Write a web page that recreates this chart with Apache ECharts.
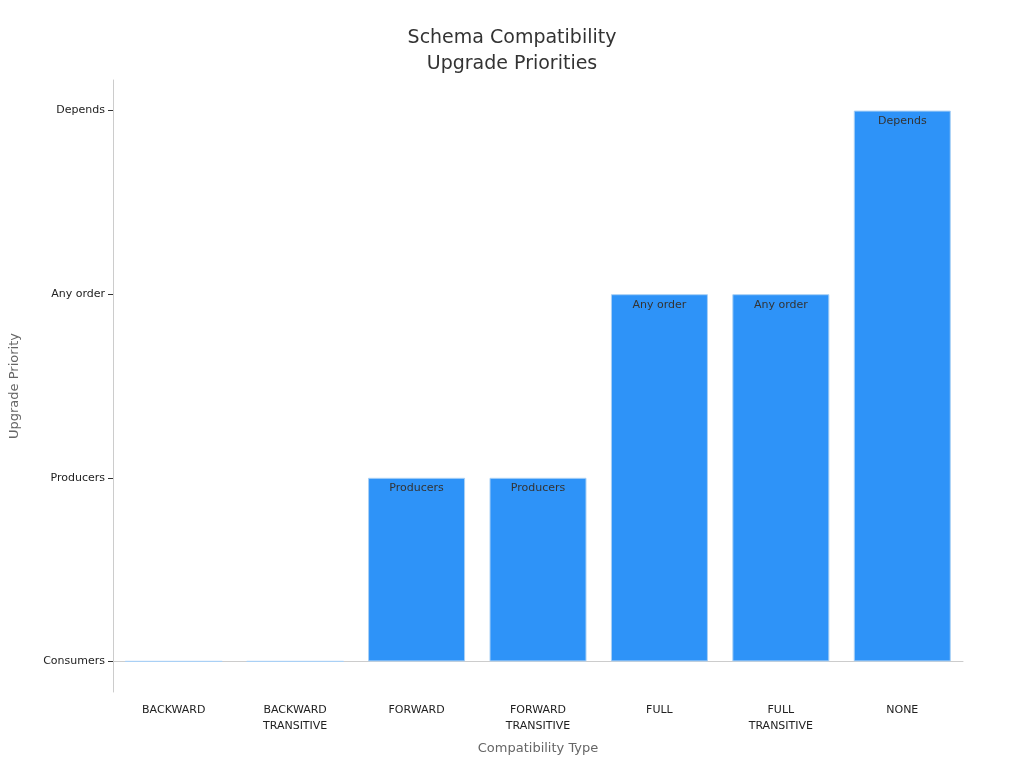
<!DOCTYPE html>
<html>
<head>
<meta charset="utf-8">
<script src="https://cdn.jsdelivr.net/npm/echarts@6/dist/echarts.min.js"></script>
<style>html,body{margin:0;padding:0;}#chart{width:1024px;height:768px;}</style>
</head>
<body>
<div id="chart"></div>
<script>
var categories = ['BACKWARD', 'BACKWARD\nTRANSITIVE', 'FORWARD', 'FORWARD\nTRANSITIVE', 'FULL', 'FULL\nTRANSITIVE', 'NONE'];
var priorityLevels = ['Consumers', 'Producers', 'Any order', 'Depends'];
var priorityValues = [0, 0, 1, 1, 2, 2, 3];

var chart = echarts.init(document.getElementById('chart'));
chart.setOption({
    title: {
        text: 'Schema Compatibility\nUpgrade Priorities',
        left: 'center',
        top: 20,
        textStyle: {fontFamily: 'DejaVu Sans', fontSize: 19, fontWeight: 'normal', color: '#333', lineHeight: 26}
    },
    grid: {left: 111, right: 61, top: 80, bottom: 76},
    xAxis: {
        type: 'category',
        data: categories,
        name: 'Compatibility Type',
        nameLocation: 'middle',
        nameGap: 50,
        nameTextStyle: {fontFamily: 'DejaVu Sans', fontSize: 13, color: '#666'},
        axisLine: {lineStyle: {color: '#ccc'}},
        axisTick: {alignWithLabel: true, lineStyle: {color: '#333'}},
        axisLabel: {fontFamily: 'DejaVu Sans', fontSize: 11, color: '#222', lineHeight: 16, margin: 10}
    },
    yAxis: {
        type: 'value',
        min: -1 / 6,
        max: 3 + 1 / 6,
        name: 'Upgrade Priority',
        nameLocation: 'middle',
        nameGap: 92,
        nameTextStyle: {fontFamily: 'DejaVu Sans', fontSize: 13, color: '#666'},
        splitLine: {show: false},
        axisLine: {show: true, lineStyle: {color: '#ccc'}},
        axisTick: {show: true, customValues: [0, 1, 2, 3], lineStyle: {color: '#333'}},
        axisLabel: {
            customValues: [0, 1, 2, 3],
            fontFamily: 'DejaVu Sans', fontSize: 11, color: '#222',
            formatter: function (v) { return priorityLevels[Math.round(v)]; }
        }
    },
    series: [{
        type: 'bar',
        data: priorityValues,
        barWidth: 97,
        itemStyle: {color: '#2e93f8', borderColor: '#a9d0f5', borderWidth: 1},
        label: {
            show: true,
            position: 'insideTop',
            distance: 5,
            fontFamily: 'DejaVu Sans', fontSize: 11, color: '#333',
            formatter: function (p) { return p.value > 0 ? priorityLevels[p.value] : ''; }
        }
    }]
});
</script>
</body>
</html>
